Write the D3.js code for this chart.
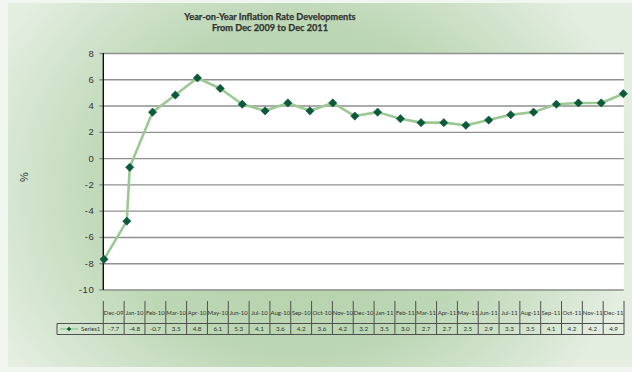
<!DOCTYPE html>
<html>
<head>
<meta charset="utf-8">
<script src="https://cdn.jsdelivr.net/npm/d3@7/dist/d3.min.js"></script>
<style>
  html, body { margin: 0; padding: 0; background: #f2f6f1; }
  svg { display: block; }
</style>
</head>
<body>
<script>
// Year-on-year inflation, Dec 2009 - Dec 2011
const months = ["Dec-09","Jan-10","Feb-10","Mar-10","Apr-10","May-10","Jun-10","Jul-10",
  "Aug-10","Sep-10","Oct-10","Nov-10","Dec-10","Jan-11","Feb-11","Mar-11","Apr-11",
  "May-11","Jun-11","Jul-11","Aug-11","Sep-11","Oct-11","Nov-11","Dec-11"];
// dates the series is plotted against on the chart's date axis
const obsDates = ["2009-12-25","2010-01-25","2010-01-29","2010-03-01","2010-04-01",
  "2010-05-01","2010-06-01","2010-07-01","2010-08-01","2010-09-01","2010-10-01",
  "2010-11-01","2010-12-01","2011-01-01","2011-02-01","2011-03-01","2011-04-01",
  "2011-05-01","2011-06-01","2011-07-01","2011-08-01","2011-09-01","2011-10-01",
  "2011-11-01","2011-12-01"];
const series1 = [-7.7,-4.8,-0.7,3.5,4.8,6.1,5.3,4.1,3.6,4.2,3.6,4.2,3.2,3.5,3.0,2.7,2.7,
  2.5,2.9,3.3,3.5,4.1,4.2,4.2,4.9];
const seriesName = "Series1";
const yTicks = [8,6,4,2,0,-2,-4,-6,-8,-10];
const titleLines = ["Year-on-Year Inflation Rate Developments","From Dec 2009 to Dec 2011"];
const yLabel = "%";

const W = 632, H = 372;
const plot = {left: 103.3, right: 623.8, top: 53, bottom: 289.5};
const table = {headTop: 301, rowTop: 323.5, rowBottom: 334.5, legendLeft: 57};

const svg = d3.select("body").append("svg").attr("width", W).attr("height", H);
const defs = svg.append("defs");
const grad = defs.append("radialGradient").attr("id", "panelGrad")
  .attr("gradientUnits", "userSpaceOnUse")
  .attr("cx", 0).attr("cy", 0).attr("r", 1)
  .attr("gradientTransform", "translate(300,190) scale(340,300)");
grad.append("stop").attr("offset", "0").attr("stop-color", "#b0cfa6");
grad.append("stop").attr("offset", "0.55").attr("stop-color", "#bcd7b4");
grad.append("stop").attr("offset", "1").attr("stop-color", "#e3ede0");

svg.append("rect").attr("width", W).attr("height", H).attr("fill", "#f2f6f1");
svg.append("rect").attr("x", 8).attr("y", 3).attr("width", W - 8).attr("height", 364)
  .attr("fill", "url(#panelGrad)");

// title
svg.append("g").selectAll("text").data(titleLines).join("text")
  .attr("x", 270).attr("y", (d, i) => 19.5 + i * 11.5)
  .attr("text-anchor", "middle")
  .style("font-family", "Lato, 'Open Sans', sans-serif")
  .style("font-weight", "bold").style("font-size", "9.2px")
  .attr("fill", "#333").attr("stroke", "#333").attr("stroke-width", 0.25)
  .text(d => d);

// scales
const parse = d3.utcParse("%Y-%m-%d");
const dates = obsDates.map(parse);
const x = d3.scaleUtc().domain(d3.extent(dates)).range([104, 623.3]);
const y = d3.scaleLinear().domain([-10, 8]).range([plot.bottom, plot.top]);
const band = d3.scaleBand().domain(months).range([plot.left, plot.right + 0.2]);

// plot area
svg.append("rect").attr("x", plot.left).attr("y", plot.top)
  .attr("width", plot.right - plot.left).attr("height", plot.bottom - plot.top)
  .attr("fill", "#ffffff");

// y axis with gridlines
const yAxis = svg.append("g").attr("transform", `translate(${plot.left},0)`)
  .call(d3.axisLeft(y).tickValues(yTicks).tickSize(4).tickPadding(5).tickFormat(d => String(d)));
yAxis.select(".domain").remove();
yAxis.selectAll(".tick line").attr("stroke", "#8a8a8a").attr("stroke-width", 1.3);
yAxis.selectAll(".tick").append("line")
  .attr("x1", 0).attr("x2", plot.right - plot.left)
  .attr("stroke", "#8f8f8f").attr("stroke-width", 1.4);
yAxis.selectAll(".tick text")
  .style("font-family", "'Liberation Sans', Arial, sans-serif")
  .style("font-size", "9.5px").style("letter-spacing", "0.6px")
  .attr("fill", "#333");
svg.append("line").attr("x1", plot.left).attr("x2", plot.left)
  .attr("y1", plot.top).attr("y2", plot.bottom + 0.5)
  .attr("stroke", "#111").attr("stroke-width", 1.4);

// axis title
svg.append("text").attr("transform", "translate(28,177) rotate(-90)")
  .attr("text-anchor", "middle")
  .style("font-family", "'Liberation Sans', Arial, sans-serif").style("font-size", "11px")
  .attr("fill", "#333").text(yLabel);

// series line and markers
const pts = series1.map((v, i) => ({date: dates[i], value: v}));
svg.append("path").datum(pts)
  .attr("fill", "none").attr("stroke", "#9bc993").attr("stroke-width", 2.6)
  .attr("stroke-linejoin", "round")
  .attr("d", d3.line().x(d => x(d.date)).y(d => y(d.value)));
const diamond = d3.symbol(d3.symbolSquare, 34);
svg.append("g").selectAll("path").data(pts).join("path")
  .attr("transform", d => `translate(${x(d.date)},${y(d.value)}) rotate(45)`)
  .attr("d", diamond).attr("fill", "#0b5a3b").attr("stroke", "#0b5a3b").attr("stroke-width", 0.6);

// data table
const tg = svg.append("g");
const lineCol = "#4f4f4f";
const bounds = months.map(m => band(m)).concat([band.range()[1]]);
tg.selectAll("line.v").data(bounds).join("line").attr("class", "v")
  .attr("x1", d => d).attr("x2", d => d)
  .attr("y1", table.headTop).attr("y2", table.rowBottom)
  .attr("stroke", lineCol).attr("stroke-width", 1);
tg.append("line").attr("x1", table.legendLeft).attr("x2", band.range()[1])
  .attr("y1", table.rowTop).attr("y2", table.rowTop).attr("stroke", lineCol);
tg.append("line").attr("x1", table.legendLeft).attr("x2", band.range()[1])
  .attr("y1", table.rowBottom).attr("y2", table.rowBottom).attr("stroke", lineCol);
tg.append("line").attr("x1", table.legendLeft).attr("x2", table.legendLeft)
  .attr("y1", table.rowTop).attr("y2", table.rowBottom).attr("stroke", lineCol);

const tFont = "Lato, 'Open Sans', sans-serif";
tg.selectAll("text.h").data(months).join("text").attr("class", "h")
  .attr("x", d => band(d) + band.bandwidth() / 2).attr("y", 315.2)
  .attr("text-anchor", "middle").style("font-family", tFont).style("font-size", "6px")
  .attr("fill", "#333").text(d => d);
tg.selectAll("text.v").data(series1).join("text").attr("class", "v")
  .attr("x", (d, i) => band(months[i]) + band.bandwidth() / 2).attr("y", 331.3)
  .attr("text-anchor", "middle").style("font-family", tFont).style("font-size", "6.3px")
  .attr("fill", "#333").text(d => d.toFixed(1));

// legend key inside the table
tg.append("line").attr("x1", 60).attr("x2", 78).attr("y1", 329).attr("y2", 329)
  .attr("stroke", "#9bc993").attr("stroke-width", 1.5);
tg.append("path").attr("transform", "translate(69,329) rotate(45)")
  .attr("d", d3.symbol(d3.symbolSquare, 10)).attr("fill", "#0b5a3b");
tg.append("text").attr("x", 81).attr("y", 331.2)
  .style("font-family", tFont).style("font-size", "6px").attr("fill", "#333").text(seriesName);
</script>
</body>
</html>
